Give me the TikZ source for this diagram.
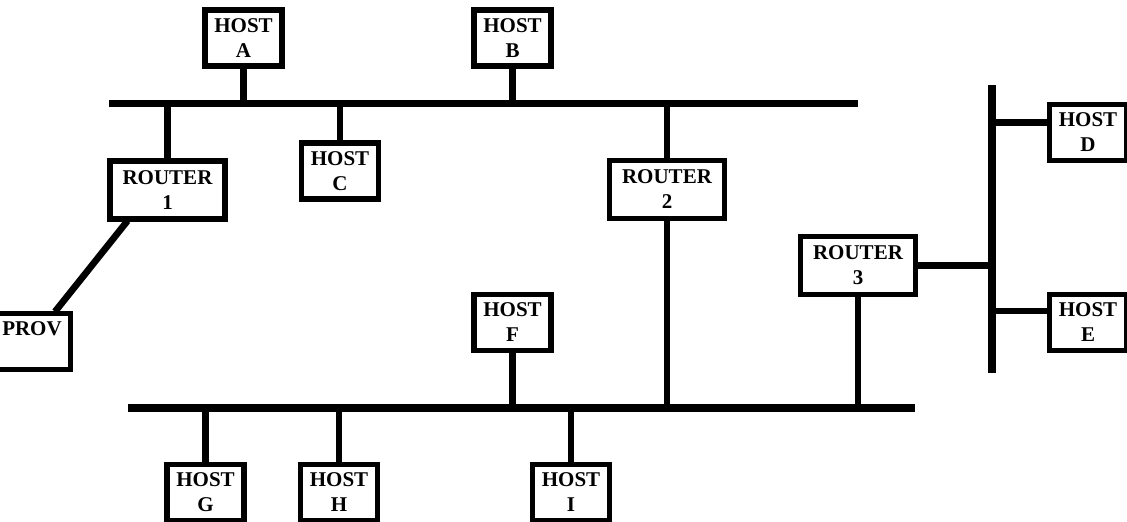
\documentclass[tikz,border=0pt]{standalone}
\usepackage{fontspec}
\setmainfont{Liberation Serif}
\usetikzlibrary{calc}
\tikzset{
  box/.style={draw, line width=5.7pt, fill=white, inner sep=0pt, align=center,
    font=\bfseries\fontsize{21}{25}\selectfont},
  hostbox/.style={box, minimum width=77pt, minimum height=56pt},
  routerbox/.style={box, minimum width=115pt, minimum height=58pt},
  bus/.style={line width=7.3pt},
  link/.style={line width=6.7pt}
}
\begin{document}
\begin{tikzpicture}[x=1pt,y=-1pt]
\useasboundingbox (0,0) rectangle (1127,522);
% buses
\coordinate (T1) at (109,103.5);
\coordinate (T2) at (858,103.5);
\coordinate (B1) at (128,408);
\coordinate (B2) at (915,408);
\coordinate (V1) at (992,85);
\coordinate (V2) at (992,373);
\draw[bus] (T1) -- (T2);
\draw[bus] (B1) -- (B2);
\draw[bus] (V1) -- (V2);
% node positions
\coordinate (pA) at (243.5,38);
\coordinate (pB) at (512.5,38);
\coordinate (pC) at (340,171);
\coordinate (pD) at (1088,132.5);
\coordinate (pE) at (1088,322.5);
\coordinate (pF) at (512.5,322.5);
\coordinate (pG) at (205.5,492.5);
\coordinate (pH) at (339,492.5);
\coordinate (pI) at (571,492.5);
\coordinate (pP) at (32,341.5);
\coordinate (pR1) at (167.5,190);
\coordinate (pR2) at (667,189.5);
\coordinate (pR3) at (858,265.5);
% nodes
\node[hostbox] (A) at (pA) {HOST\\A};
\node[hostbox] (B) at (pB) {HOST\\B};
\node[hostbox] (C) at (pC) {HOST\\C};
\node[hostbox] (D) at (pD) {HOST\\D};
\node[hostbox] (E) at (pE) {HOST\\E};
\node[hostbox] (F) at (pF) {HOST\\F};
\node[hostbox] (G) at (pG) {HOST\\G};
\node[hostbox] (H) at (pH) {HOST\\H};
\node[hostbox] (I) at (pI) {HOST\\I};
\node[hostbox] (P) at (pP) {PROV\\\mbox{}};
\node[routerbox] (R1) at (pR1) {ROUTER\\1};
\node[routerbox] (R2) at (pR2) {ROUTER\\2};
\node[routerbox] (R3) at (pR3) {ROUTER\\3};
% connection points
\coordinate (dD) at ($(D.west)+(0,-10)$);
\coordinate (dE) at ($(E.west)+(0,-11.5)$);
\coordinate (r1p) at ($(R1.south)+(-40,-1)$);
\coordinate (pp) at ($(P.north)+(23,1)$);
% connections
\begin{scope}[link]
\draw (A.south) -- (A.south |- T1);
\draw (B.south) -- (B.south |- T1);
\draw (C.north) -- (C.north |- T1);
\draw (R1.north) -- (R1.north |- T1);
\draw (R2.north) -- (R2.north |- T1);
\draw (R2.south) -- (R2.south |- B1);
\draw (R3.south) -- (R3.south |- B1);
\draw (R3.east) -- (R3.east -| V1);
\draw (dD) -- (dD -| V1);
\draw (dE) -- (dE -| V1);
\draw (F.south) -- (F.south |- B1);
\draw (G.north) -- (G.north |- B1);
\draw (H.north) -- (H.north |- B1);
\draw (I.north) -- (I.north |- B1);
\draw (r1p) -- (pp);
\end{scope}
\end{tikzpicture}
\end{document}
